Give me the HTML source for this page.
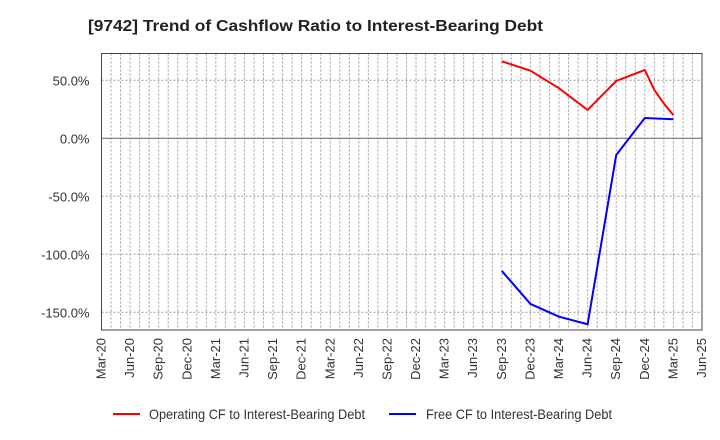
<!DOCTYPE html>
<html><head><meta charset="utf-8"><style>
body{margin:0;background:#fff;}
svg{display:block;font-family:"Liberation Sans",Arial,sans-serif;}
</style></head><body>
<svg id="chart" width="720" height="440">
<text x="88" y="31" font-size="16" font-weight="bold" fill="#222" textLength="455" lengthAdjust="spacingAndGlyphs">[9742]  Trend of Cashflow Ratio to Interest-Bearing Debt</text>
<g id="grid"></g>
<g id="axes"></g>
<g id="series"></g>
<g>
<line x1="113" y1="414" x2="140" y2="414" stroke="#ff0000" stroke-width="2"/>
<text x="149" y="419" font-size="14" fill="#333" textLength="216" lengthAdjust="spacingAndGlyphs">Operating CF to Interest-Bearing Debt</text>
<line x1="389" y1="414" x2="416" y2="414" stroke="#0000ff" stroke-width="2"/>
<text x="426" y="419" font-size="14" fill="#333" textLength="186" lengthAdjust="spacingAndGlyphs">Free CF to Interest-Bearing Debt</text>
</g>
</svg>
<script>
const xTickLabels=["Mar-20","Jun-20","Sep-20","Dec-20","Mar-21","Jun-21","Sep-21","Dec-21","Mar-22","Jun-22","Sep-22","Dec-22","Mar-23","Jun-23","Sep-23","Dec-23","Mar-24","Jun-24","Sep-24","Dec-24","Mar-25","Jun-25"];
const yTicks=[50,0,-50,-100,-150];
const opMonths=[42,45,48,51,54,57,58,59,60];
const opValues=[66.4,58.3,43.1,24.4,49.4,58.9,41.6,30,20];
const freeMonths=[42,45,48,51,54,57,60];
const freeValues=[-114.4,-142.8,-153.8,-160.3,-14.4,17.5,16.4];

const L=101.5,R=702,T=53.5,B=330;
const X0=0,X1=63,Y0=-165.3,Y1=73.1;
const xs=m=>L+(m-X0)/(X1-X0)*(R-L);
const ys=v=>B-(v-Y0)/(Y1-Y0)*(B-T);
const NS="http://www.w3.org/2000/svg";
function mk(tag,parent,attrs){const e=document.createElementNS(NS,tag);for(const k in attrs)e.setAttribute(k,attrs[k]);parent.appendChild(e);return e;}
const grid=document.getElementById('grid'),axes=document.getElementById('axes'),series=document.getElementById('series');
for(let m=1;m<X1;m++){
  const l=mk('line',grid,{x1:xs(m),x2:xs(m),y1:T,y2:B,stroke:'#999','stroke-width':1,'stroke-dasharray':'2,2'});
  
  
}
yTicks.forEach(v=>{
  const l=mk('line',grid,{x1:L,x2:R,y1:ys(v),y2:ys(v),stroke:v===0?'#666':'#999','stroke-width':1,'stroke-dasharray':v===0?'none':'2,2'});
  
  
  const t=mk('text',axes,{x:L-12,y:ys(v)+5,'text-anchor':'end','font-size':13,fill:'#333'});
  t.textContent=v.toFixed(1)+'%';
  
  
});
const frame=mk('rect',axes,{x:L,y:T,width:R-L,height:B-T,fill:'none',stroke:'#444','stroke-width':1});


xTickLabels.forEach((s,i)=>{
  const x=xs(i*3)+4,y=B+8;
  const t=mk('text',axes,{x:x,y:y,'text-anchor':'end','font-size':13,fill:'#333',transform:`rotate(-90 ${x} ${y})`});
  t.textContent=s;
  
  
});
function line(ms,vs,color,name){
  const p=mk('polyline',series,{points:ms.map((m,i)=>xs(m)+','+ys(vs[i])).join(' '),fill:'none',stroke:color,'stroke-width':2});
  
  
}
line(opMonths,opValues,'#ff0000','operating-cf-line');
line(freeMonths,freeValues,'#0000ff','free-cf-line');
</script>
</body></html>
